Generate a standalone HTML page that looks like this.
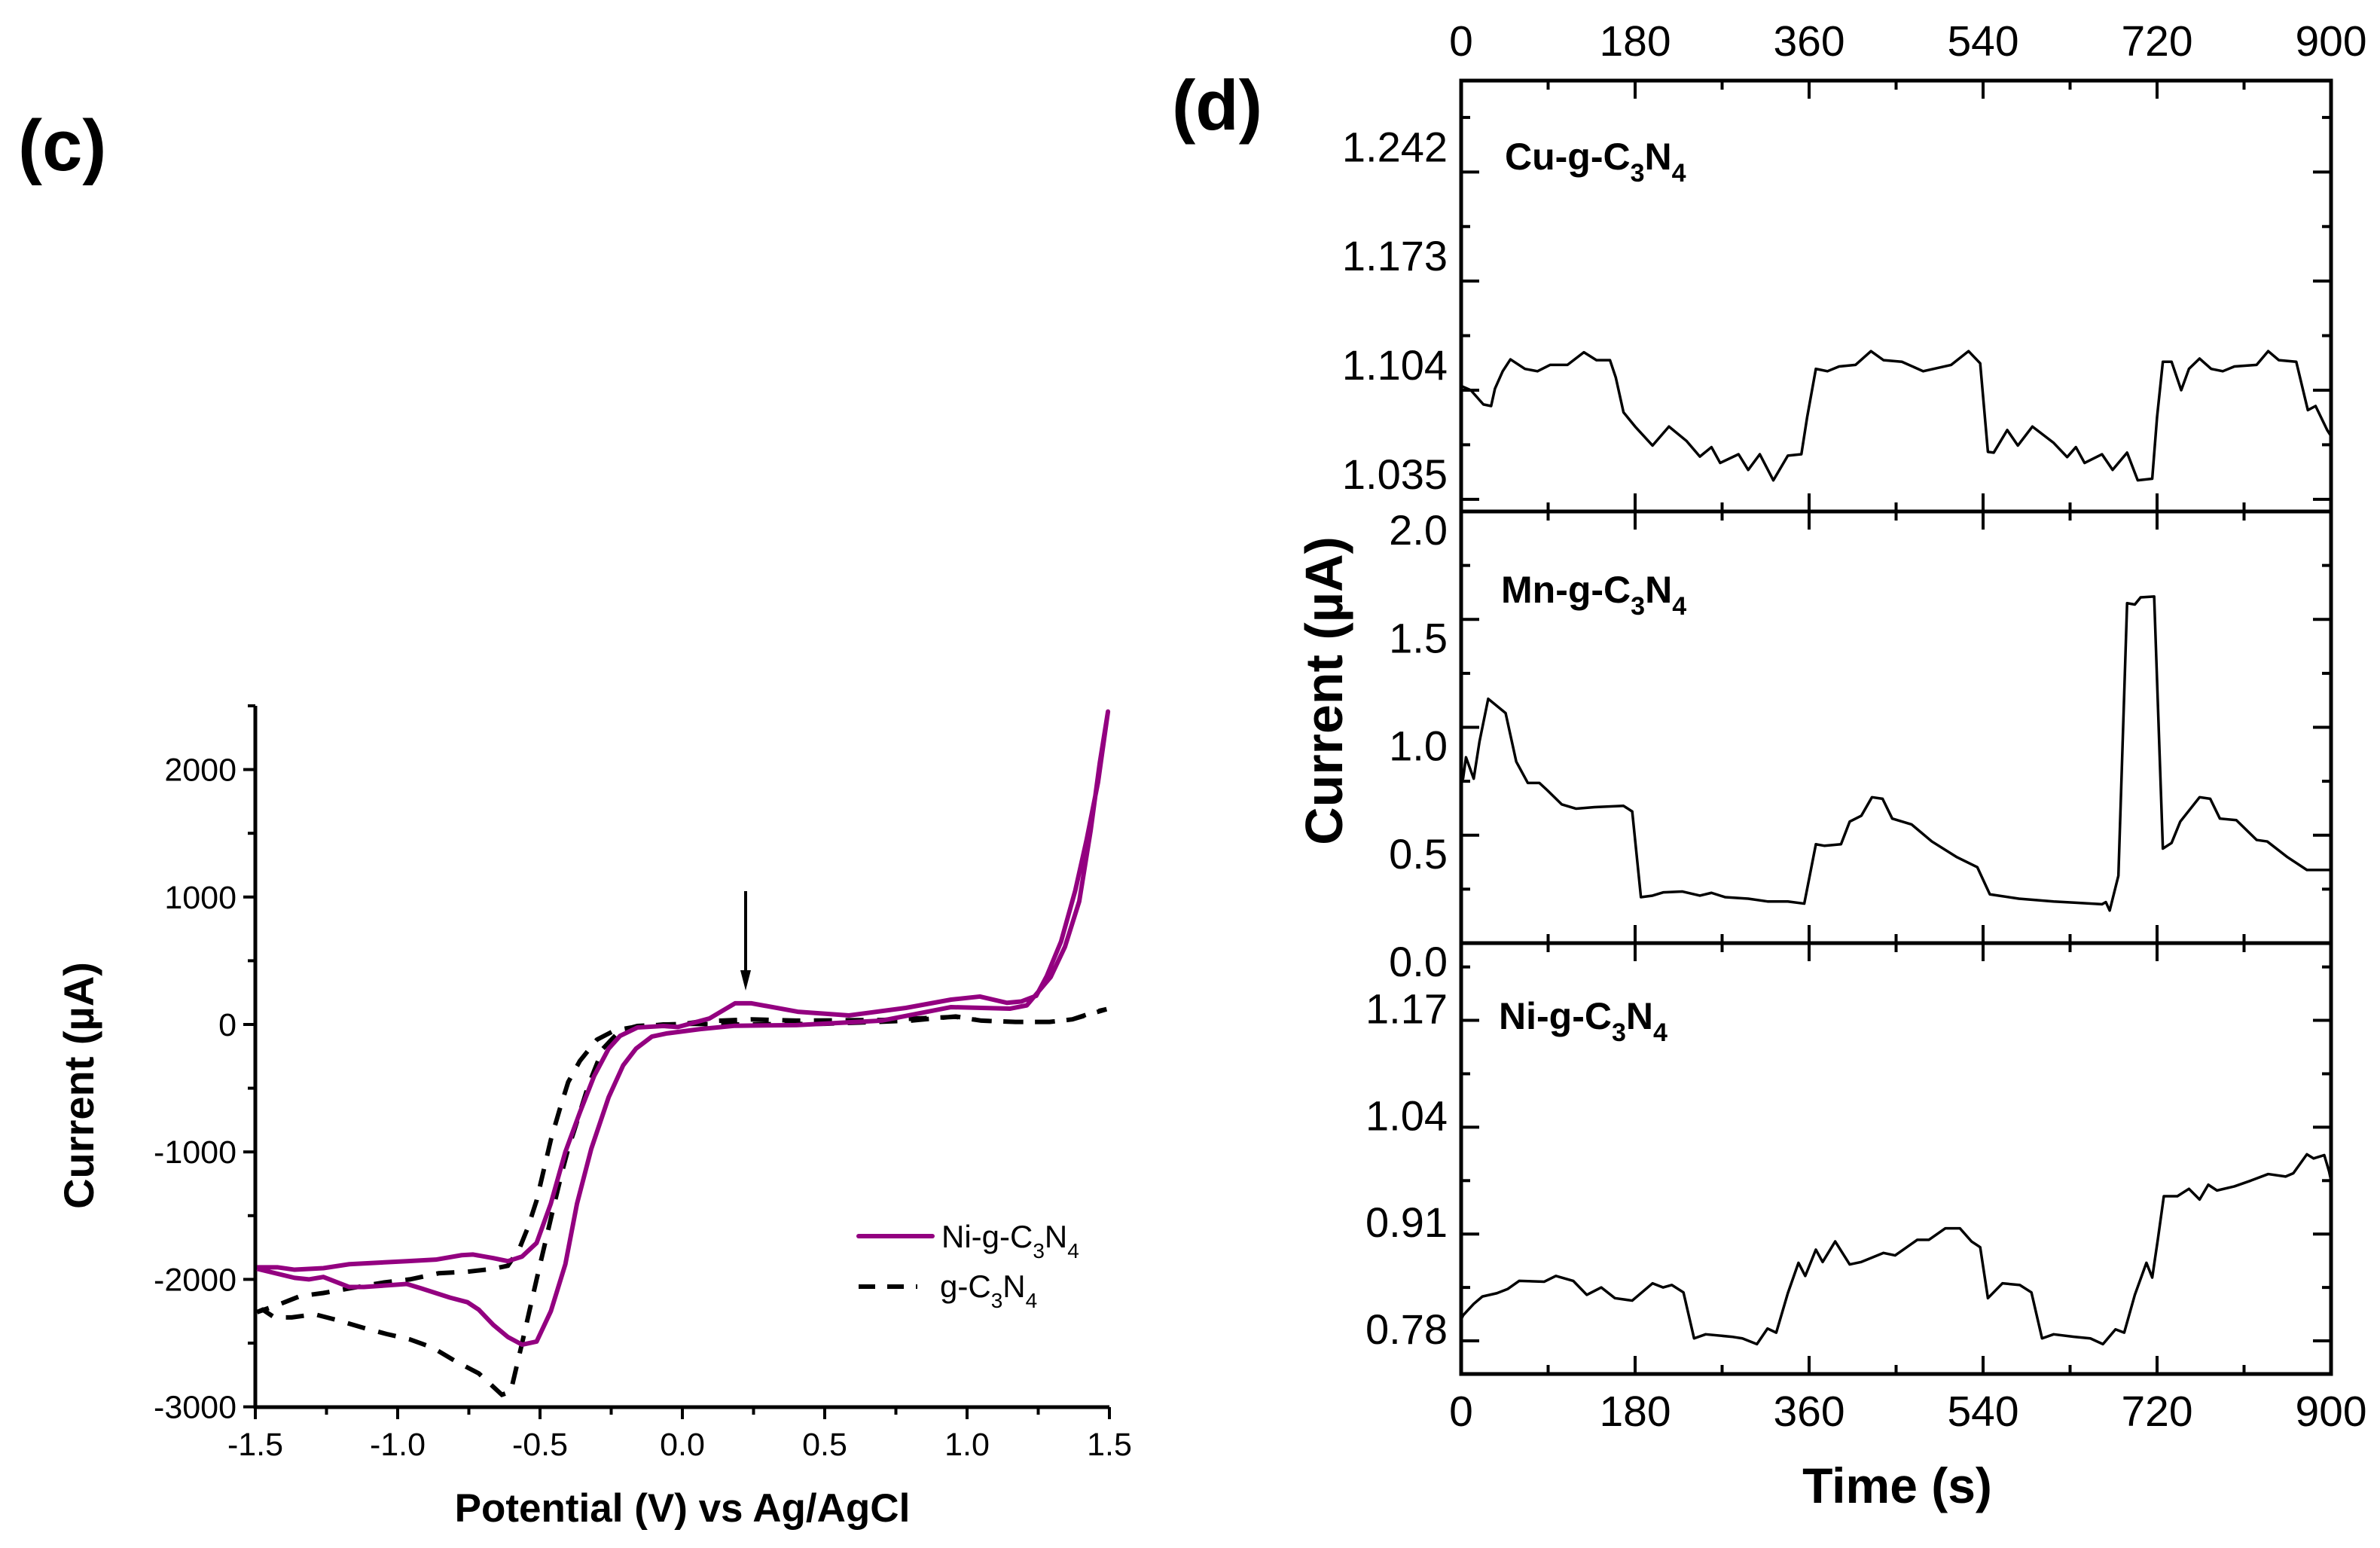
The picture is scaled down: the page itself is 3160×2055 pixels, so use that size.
<!DOCTYPE html>
<html><head><meta charset="utf-8">
<style>
html,body{margin:0;padding:0;background:#fff;}
svg{display:block;}
text{font-family:"Liberation Sans",Arial,sans-serif;fill:#000;}
.nar{font-family:"Liberation Sans Narrow","Liberation Sans",sans-serif;}
</style></head>
<body>
<svg id="fig" xmlns="http://www.w3.org/2000/svg" width="3160" height="2055" viewBox="0 0 3160 2055">
<text x="24" y="226" font-size="96" font-weight="bold">(c)</text>
<text x="1556" y="172" font-size="94" font-weight="bold">(d)</text>
<g id="cv"></g>
<g id="it"></g>
</svg>
<script>
// ---------- CV chart data ----------
const cvXTicks = [-1.5,-1.0,-0.5,0.0,0.5,1.0,1.5];
const cvXTickLabels = ["-1.5","-1.0","-0.5","0.0","0.5","1.0","1.5"];
const cvYTicks = [-3000,-2000,-1000,0,1000,2000];
const cvYTickLabels = ["-3000","-2000","-1000","0","1000","2000"];
const niV = [-1.494,-1.362,-1.312,-1.261,-1.170,-1.119,-0.968,-0.917,-0.816,-0.755,-0.715,-0.664,-0.613,-0.563,-0.512,-0.462,-0.411,-0.370,-0.320,-0.259,-0.208,-0.163,-0.107,-0.057,0.063,0.185,0.4,0.7,0.944,1.15,1.21,1.294,1.344,1.394,1.434,1.466,1.495,1.46,1.42,1.38,1.33,1.28,1.243,1.19,1.14,1.045,0.944,0.785,0.585,0.405,0.243,0.185,0.095,-0.016,-0.067,-0.158,-0.219,-0.259,-0.310,-0.360,-0.411,-0.462,-0.512,-0.563,-0.613,-0.664,-0.735,-0.775,-0.866,-0.968,-1.069,-1.170,-1.261,-1.362,-1.423,-1.494];
const niI = [-1917,-1988,-2000,-1981,-2060,-2060,-2036,-2071,-2143,-2179,-2238,-2357,-2452,-2512,-2488,-2250,-1881,-1405,-976,-571,-321,-190,-95,-71,-36,-10,-5,30,136,124,150,373,610,966,1520,2050,2455,1900,1450,1050,650,380,225,180,170,219,195,130,71,100,166,166,47,-20,-12,-24,-90,-190,-405,-690,-1000,-1405,-1714,-1821,-1857,-1833,-1805,-1810,-1845,-1857,-1869,-1881,-1912,-1924,-1905,-1905];
const gV = [-1.494,-1.474,-1.433,-1.372,-1.291,-1.21,-1.119,-1.038,-0.957,-0.877,-0.796,-0.715,-0.634,-0.603,-0.563,-0.512,-0.482,-0.452,-0.421,-0.401,-0.38,-0.33,-0.279,-0.219,-0.158,-0.057,0.034,0.185,0.5,0.8,0.96,1.05,1.17,1.29,1.37,1.45,1.49,1.37,1.29,1.17,1.05,0.96,0.7,0.4,0.243,0.063,-0.006,-0.067,-0.18,-0.239,-0.3,-0.36,-0.401,-0.431,-0.462,-0.482,-0.512,-0.543,-0.573,-0.613,-0.664,-0.755,-0.856,-0.957,-1.048,-1.17,-1.261,-1.342,-1.423,-1.494];
const gI = [-2257,-2238,-2298,-2298,-2274,-2321,-2381,-2429,-2471,-2536,-2643,-2738,-2905,-2881,-2500,-2000,-1714,-1429,-1143,-976,-833,-476,-190,-48,-12,0,5,0,5,30,63,30,20,20,40,100,120,40,20,20,30,60,35,30,40,24,0,0,-24,-48,-119,-286,-452,-667,-905,-1095,-1381,-1595,-1762,-1893,-1917,-1940,-1952,-2000,-2024,-2071,-2107,-2131,-2202,-2257];

// ---------- I-t chart data ----------
const tTicks = [0,180,360,540,720,900];
const tTickLabels = ["0","180","360","540","720","900"];
const cuTicks = [1.035,1.104,1.173,1.242];
const cuTickLabels = ["1.035","1.104","1.173","1.242"];
const mnTicks = [0.0,0.5,1.0,1.5,2.0];
const mnTickLabels = ["0.0","0.5","1.0","1.5","2.0"];
const niTicks = [0.78,0.91,1.04,1.17];
const niTickLabels = ["0.78","0.91","1.04","1.17"];
const cuT = [0,10,23,31,35,43,51,66,79,92,110,127,140,154,160,168,180,198,215,233,247,259,268,287,297,309,323,338,352,358,367,379,391,408,424,437,456,478,507,525,537,545,551,565,576,591,613,627,636,645,663,674,689,700,715,720,726,735,745,753,764,776,788,800,823,835,846,864,876,884,896,900];
const cuVal = [1.1067,1.104,1.095,1.094,1.105,1.116,1.1235,1.1175,1.116,1.120,1.120,1.128,1.123,1.123,1.112,1.090,1.081,1.069,1.081,1.072,1.062,1.068,1.058,1.0635,1.0536,1.0635,1.047,1.0626,1.0635,1.087,1.1175,1.116,1.119,1.120,1.1287,1.123,1.122,1.116,1.120,1.1287,1.121,1.065,1.0645,1.0788,1.069,1.081,1.0707,1.0617,1.068,1.058,1.0635,1.0536,1.0645,1.047,1.048,1.087,1.122,1.122,1.104,1.1175,1.124,1.1175,1.116,1.119,1.120,1.1287,1.123,1.122,1.0914,1.094,1.0788,1.075];
const mnT = [0,2,5,13,19,28,46,57,69,81,89,104,119,138,168,177,186,198,209,229,247,259,273,297,317,338,355,367,376,393,402,414,425,436,446,466,487,513,534,547,577,613,636,663,667,671,680,689,697,703,717,726,735,744,764,775,785,802,823,834,855,875,896,900];
const mnVal = [0.80,0.762,0.861,0.762,0.934,1.132,1.066,0.841,0.742,0.742,0.709,0.643,0.623,0.630,0.636,0.610,0.213,0.220,0.235,0.239,0.220,0.233,0.213,0.206,0.193,0.193,0.183,0.458,0.451,0.458,0.563,0.590,0.676,0.669,0.577,0.550,0.471,0.398,0.352,0.226,0.206,0.193,0.187,0.180,0.19,0.151,0.312,1.575,1.569,1.602,1.606,0.438,0.464,0.563,0.676,0.669,0.577,0.570,0.478,0.471,0.398,0.339,0.339,0.339];
const niT = [0,2,13,22,37,48,60,86,98,116,130,145,159,177,198,209,218,230,241,253,280,291,306,317,326,338,349,356,367,374,387,402,414,437,449,472,484,501,516,528,537,545,560,578,590,601,613,634,651,664,677,686,697,709,715,721,727,741,753,764,773,782,800,817,835,853,861,875,882,893,898,900];
const niVal = [0.806,0.811,0.825,0.834,0.838,0.843,0.853,0.852,0.859,0.853,0.836,0.845,0.832,0.829,0.850,0.845,0.848,0.839,0.783,0.788,0.785,0.783,0.776,0.795,0.790,0.838,0.875,0.859,0.891,0.876,0.901,0.873,0.876,0.887,0.884,0.903,0.903,0.917,0.917,0.901,0.894,0.832,0.850,0.848,0.839,0.783,0.788,0.785,0.783,0.776,0.794,0.790,0.836,0.875,0.857,0.905,0.956,0.956,0.965,0.952,0.970,0.963,0.968,0.975,0.983,0.980,0.984,1.007,1.002,1.006,0.986,0.975];

const NS = "http://www.w3.org/2000/svg";
function mk(parent, tag, attrs){const e=document.createElementNS(NS,tag);for(const k in attrs)e.setAttribute(k,attrs[k]);parent.appendChild(e);return e;}

// ---------- CV chart ----------
const cv = document.getElementById('cv');
const cvL=339, cvR=1473, cvTop=937, cvBot=1868;
const cvx = v => cvL + (v+1.5)/3*(cvR-cvL);
const cvy = i => 1360 - i*0.1692;
let ax = mk(cv,'line',{x1:cvL,y1:cvTop,x2:cvL,y2:cvBot+2,stroke:'#000','stroke-width':5});


ax = mk(cv,'line',{x1:cvL-2,y1:cvBot,x2:cvR,y2:cvBot,stroke:'#000','stroke-width':5});


for(let v=-1.5; v<=1.5001; v+=0.25){
  const major = Math.abs((v*2)-Math.round(v*2))<1e-6;
  const tk = mk(cv,'line',{x1:cvx(v),y1:cvBot,x2:cvx(v),y2:cvBot+(major?16:10),stroke:'#000','stroke-width':4});
  
  
}
cvXTicks.forEach((v,k)=>{
  const t = mk(cv,'text',{x:cvx(v),y:1932,'font-size':43,'text-anchor':'middle',class:'nar'});
  t.textContent = cvXTickLabels[k];
  
  
});
for(let i=-3000;i<=2500;i+=500){
  const major = i%1000===0;
  const tk = mk(cv,'line',{x1:cvL,y1:cvy(i),x2:cvL-(major?16:10),y2:cvy(i),stroke:'#000','stroke-width':4});
  
  
}
cvYTicks.forEach((v,k)=>{
  const t = mk(cv,'text',{x:314,y:cvy(v)+15,'font-size':43,'text-anchor':'end',class:'nar'});
  t.textContent = cvYTickLabels[k];
  
  
});
let gl = mk(cv,'polyline',{points:gV.map((v,k)=>cvx(v)+','+cvy(gI[k])).join(' '),fill:'none',stroke:'#000','stroke-width':6,'stroke-dasharray':'24 18'});


let nl = mk(cv,'polyline',{points:niV.map((v,k)=>cvx(v)+','+cvy(niI[k])).join(' '),fill:'none',stroke:'#930080','stroke-width':6,'stroke-linejoin':'round'});


let ar = mk(cv,'line',{x1:990,y1:1183,x2:990,y2:1290,stroke:'#000','stroke-width':4});


let ah = mk(cv,'polygon',{points:'983,1288 997,1288 990,1315',fill:'#000'});


let lg1 = mk(cv,'line',{x1:1140,y1:1641,x2:1238,y2:1641,stroke:'#930080','stroke-width':6,'stroke-linecap':'round'});


let lg2 = mk(cv,'line',{x1:1140,y1:1708,x2:1218,y2:1708,stroke:'#000','stroke-width':6,'stroke-dasharray':'22 16'});


let lt1 = mk(cv,'text',{x:1250,y:1656,'font-size':42});
lt1.innerHTML = 'Ni-g-C<tspan font-size="28" dy="14">3</tspan><tspan dy="-14">N</tspan><tspan font-size="28" dy="14">4</tspan>';


let lt2 = mk(cv,'text',{x:1248,y:1722,'font-size':42});
lt2.innerHTML = 'g-C<tspan font-size="28" dy="14">3</tspan><tspan dy="-14">N</tspan><tspan font-size="28" dy="14">4</tspan>';


let xt = mk(cv,'text',{x:906,y:2020,'font-size':53,'font-weight':'bold','text-anchor':'middle',class:'nar'});
xt.textContent = 'Potential (V) vs Ag/AgCl';


let yt = mk(cv,'text',{x:0,y:0,'font-size':56,'font-weight':'bold','text-anchor':'middle',transform:'translate(124,1441) rotate(-90)'});
yt.textContent = 'Current (µA)';



// ---------- I-t chart ----------
const it = document.getElementById('it');
const L=1940, R=3095;
const tx = t => L + t/900*(R-L);
const panels = [
  {top:107,bot:679,min:1.0273,max:1.2998,ticks:cuTicks,labels:cuTickLabels,minor:0.0345,T:cuT,V:cuVal,name:'cu',lab:'Cu-g-C',lx:1998,ly:225,ldy:-14},
  {top:679,bot:1252,min:0.0,max:2.0,ticks:mnTicks,labels:mnTickLabels,minor:0.25,T:mnT,V:mnVal,name:'mn',lab:'Mn-g-C',lx:1993,ly:800,ldy:44},
  {top:1252,bot:1824,min:0.7397,max:1.264,ticks:niTicks,labels:niTickLabels,minor:0.065,T:niT,V:niVal,name:'ni',lab:'Ni-g-C',lx:1990,ly:1366,ldy:4}
];
panels.forEach(p=>{
  const py = v => p.bot - (v-p.min)/(p.max-p.min)*(p.bot-p.top);
  const fr = mk(it,'rect',{x:L,y:p.top,width:R-L,height:p.bot-p.top,fill:'none',stroke:'#000','stroke-width':5});
  
  
  for(let t=90;t<900;t+=90){
    const major = t%180===0, len = major?24:12;
    const a = mk(it,'line',{x1:tx(t),y1:p.top,x2:tx(t),y2:p.top+len,stroke:'#000','stroke-width':4});
    
    
    const b = mk(it,'line',{x1:tx(t),y1:p.bot,x2:tx(t),y2:p.bot-len,stroke:'#000','stroke-width':4});
    
    
  }
  const start = p.ticks[0]-p.minor*4;
  for(let v=start; v<=p.max+1e-6; v+=p.minor){
    if(v < p.min-1e-6) continue;
    const major = p.ticks.some(tk=>Math.abs(tk-v)<1e-4), len = major?24:12;
    const y = py(v);
    if(y<p.top+3||y>p.bot-3) continue;
    const a = mk(it,'line',{x1:L,y1:y,x2:L+len,y2:y,stroke:'#000','stroke-width':4});
    
    
    const b = mk(it,'line',{x1:R,y1:y,x2:R-len,y2:y,stroke:'#000','stroke-width':4});
    
    
  }
  p.ticks.forEach((v,k)=>{
    const t = mk(it,'text',{x:1922,y:py(v)+p.ldy,'font-size':56,'text-anchor':'end'});
    t.textContent = p.labels[k];
    
    
  });
  const ln = mk(it,'polyline',{points:p.T.map((t,k)=>tx(t)+','+py(p.V[k])).join(' '),fill:'none',stroke:'#000','stroke-width':3.5,'stroke-linejoin':'round'});
  
  
  const lb = mk(it,'text',{x:p.lx,y:p.ly,'font-size':50,'font-weight':'bold',class:'nar'});
  lb.innerHTML = p.lab+'<tspan font-size="34" dy="16">3</tspan><tspan dy="-16">N</tspan><tspan font-size="34" dy="16">4</tspan>';
  
  
});
tTicks.forEach((t,k)=>{
  const a = mk(it,'text',{x:tx(t),y:74,'font-size':57,'text-anchor':'middle'});
  a.textContent = tTickLabels[k];
  
  
  const b = mk(it,'text',{x:tx(t),y:1893,'font-size':57,'text-anchor':'middle'});
  b.textContent = tTickLabels[k];
  
  
});
let tt = mk(it,'text',{x:2519,y:1995,'font-size':66,'font-weight':'bold','text-anchor':'middle'});
tt.textContent = 'Time (s)';


let ct = mk(it,'text',{x:0,y:0,'font-size':70,'font-weight':'bold','text-anchor':'middle',class:'nar',transform:'translate(1782,917) rotate(-90)'});
ct.textContent = 'Current (µA)';


</script>
</body></html>
